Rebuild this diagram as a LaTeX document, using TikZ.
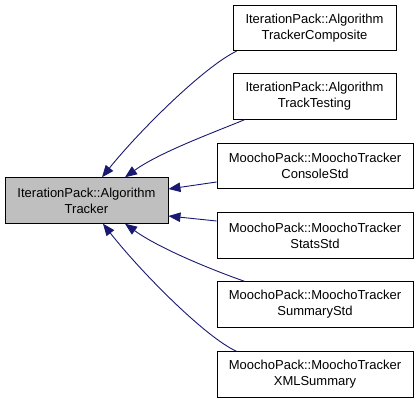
\documentclass[tikz,border=0pt]{standalone}
\usepackage{fontspec}
\setmainfont{Liberation Sans}
\usetikzlibrary{arrows.meta}
\definecolor{edgeblue}{HTML}{191970}
\definecolor{basegray}{HTML}{BFBFBF}
\begin{document}
\begin{tikzpicture}[x=1pt,y=-1pt,
  cls/.style={draw=black, line width=0.9pt, fill=white, inner sep=0pt, align=center,
    font=\fontsize{13}{16}\selectfont, minimum height=45.5pt},
  itbox/.style={cls, minimum width=163pt},
  mobox/.style={cls, minimum width=196pt},
  edge/.style={draw=edgeblue, line width=0.9pt, -{Triangle[length=12pt,width=9.5pt]}}]
\useasboundingbox (0,0) rectangle (419,403);
\node[cls, fill=basegray, minimum width=163pt] (base) at (86.5,200.5) {IterationPack::Algorithm\\Tracker};
\node[itbox] (comp) at (314.5,28) {IterationPack::Algorithm\\TrackerComposite};
\node[itbox] (test) at (314.5,96.5) {IterationPack::Algorithm\\TrackTesting};
\node[mobox] (cons) at (315,166) {MoochoPack::MoochoTracker\\ConsoleStd};
\node[mobox] (stat) at (315,235.5) {MoochoPack::MoochoTracker\\StatsStd};
\node[mobox] (summ) at (315,304.5) {MoochoPack::MoochoTracker\\SummaryStd};
\node[mobox] (xmls) at (315,374.5) {MoochoPack::MoochoTracker\\XMLSummary};
\draw[edge] ([xshift=4pt]comp.south west) .. controls (205,66) and (140,130) .. ([xshift=15.5pt]base.north);
\draw[edge] ([xshift=12pt]test.south west) .. controls (215,132) and (160,152) .. ([xshift=38.5pt]base.north);
\draw[edge] ([yshift=-16pt]cons.west) -- ([yshift=11.5pt]base.east);
\draw[edge] ([yshift=14.5pt]stat.west) -- ([yshift=-15.5pt]base.east);
\draw[edge] ([xshift=28pt]summ.north west) .. controls (215,271) and (160,249) .. ([xshift=38.5pt]base.south);
\draw[edge] ([xshift=20pt]xmls.north west) .. controls (205,337) and (140,271) .. ([xshift=16.5pt]base.south);
\end{tikzpicture}
\end{document}
